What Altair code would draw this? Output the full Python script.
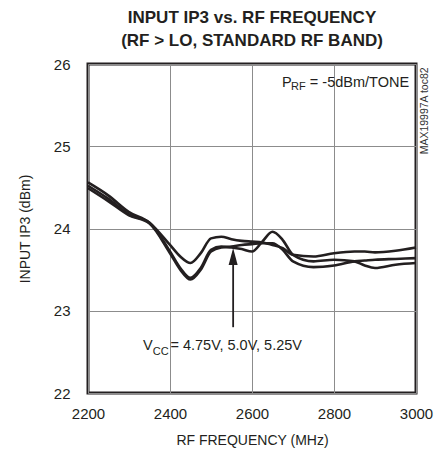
import altair as alt
import pandas as pd

# ---- data ----
freq = [2200, 2250, 2300, 2350, 2400, 2425, 2450, 2475, 2500, 2525, 2550, 2575,
        2600, 2625, 2650, 2675, 2700, 2750, 2800, 2850, 2875, 2900, 2950, 3000]
iip3_a = [24.56, 24.40, 24.20, 24.07, 23.80, 23.66, 23.58, 23.70, 23.88, 23.90, 23.87, 23.85,
          23.84, 23.83, 23.80, 23.76, 23.68, 23.66, 23.70, 23.72, 23.72, 23.71, 23.73, 23.77]
iip3_b = [24.52, 24.36, 24.17, 24.07, 23.72, 23.52, 23.40, 23.52, 23.74, 23.78, 23.77, 23.75,
          23.72, 23.84, 23.96, 23.86, 23.68, 23.60, 23.62, 23.60, 23.55, 23.52, 23.56, 23.58]
iip3_c = [24.49, 24.33, 24.16, 24.06, 23.70, 23.50, 23.38, 23.50, 23.72, 23.77, 23.78, 23.80,
          23.81, 23.82, 23.82, 23.74, 23.60, 23.53, 23.55, 23.60, 23.61, 23.62, 23.63, 23.64]
series_names = ["5.25V", "5.0V", "4.75V"]

x_ticks = [2200, 2400, 2600, 2800, 3000]
y_ticks = [22, 23, 24, 25, 26]

# annotations (data coordinates)
main_text_x = [2673, 2741, 2334, 2401]
main_text_y = [25.724, 25.724, 22.52, 22.52]
main_text = ["P", "= -5dBm/TONE", "V", "= 4.75V, 5.0V, 5.25V"]
sub_text_x = [2695, 2358]
sub_text_y = [25.684, 22.46]
sub_text = ["RF", "CC"]
arrow_x = [2554]
arrow_y0 = [22.80]
arrow_y1 = [23.58]
arrow_head_y = [23.66]
side_x = [3022]
side_y = [25.43]
side_text = ["MAX19997A toc82"]

INK = "#231f20"
FONT = "Liberation Sans, Arial, sans-serif"

rows = []
for name, vals in zip(series_names, [iip3_a, iip3_b, iip3_c]):
    for f, v in zip(freq, vals):
        rows.append({"f": f, "v": v, "vcc": name})
df = pd.DataFrame(rows)

xs = alt.Scale(domain=[2200, 3000], nice=False, zero=False)
ys = alt.Scale(domain=[22, 26], nice=False, zero=False)

lines = alt.Chart(df).mark_line(color=INK, strokeWidth=2.6, interpolate="monotone").encode(
    x=alt.X("f:Q", scale=xs, axis=alt.Axis(values=x_ticks, title="RF FREQUENCY (MHz)",
                                           labelPadding=13, titlePadding=12, format="d",
                                           labelFlush=False, labelOverlap=False)),
    y=alt.Y("v:Q", scale=ys, axis=alt.Axis(values=y_ticks, title="INPUT IP3 (dBm)",
                                           labelPadding=18, titlePadding=21, format="d",
                                           labelFlush=False, labelOverlap=False)),
    detail="vcc:N",
)

main_df = pd.DataFrame({"x": main_text_x, "y": main_text_y, "t": main_text})
sub_df = pd.DataFrame({"x": sub_text_x, "y": sub_text_y, "t": sub_text})
main_lbl = alt.Chart(main_df).mark_text(align="left", baseline="alphabetic", font=FONT,
                                         fontSize=14.5, color=INK).encode(
    x=alt.X("x:Q", scale=xs), y=alt.Y("y:Q", scale=ys), text="t:N")
sub_lbl = alt.Chart(sub_df).mark_text(align="left", baseline="alphabetic", font=FONT,
                                       fontSize=11, color=INK).encode(
    x=alt.X("x:Q", scale=xs), y=alt.Y("y:Q", scale=ys), text="t:N")

arrow_df = pd.DataFrame({"x": arrow_x, "y0": arrow_y0, "y1": arrow_y1, "yh": arrow_head_y})
arrow = alt.Chart(arrow_df).mark_rule(color=INK, strokeWidth=1.8).encode(
    x=alt.X("x:Q", scale=xs), y=alt.Y("y0:Q", scale=ys), y2="y1:Q")
head = alt.Chart(arrow_df).mark_point(shape="M-0.53,1L0.53,1L0,-1Z", size=289, filled=True,
                                      color=INK, opacity=1, strokeWidth=0).encode(
    x=alt.X("x:Q", scale=xs), y=alt.Y("yh:Q", scale=ys))

side_df = pd.DataFrame({"x": side_x, "y": side_y, "t": side_text})
side = alt.Chart(side_df).mark_text(angle=270, align="center", baseline="middle", font=FONT,
                                    fontSize=10.5, color="#333333").encode(
    x=alt.X("x:Q", scale=xs), y=alt.Y("y:Q", scale=ys), text="t:N")

chart = alt.layer(lines, arrow, head, main_lbl, sub_lbl, side).properties(
    width=328,
    height=329,
    autosize=alt.AutoSizeParams(type="none"),
    padding={"left": 80, "top": 56, "right": 22, "bottom": 57},
    title=alt.TitleParams(
        ["INPUT IP3 vs. RF FREQUENCY", "(RF > LO, STANDARD RF BAND)"],
        font=FONT, fontSize=17, fontWeight="bold", color=INK, lineHeight=23,
        anchor="middle", frame="group", offset=7,
    ),
).configure_view(
    stroke=INK, strokeWidth=3,
).configure_axis(
    domain=False, ticks=False, grid=True, gridColor="#8c8c8c", gridWidth=1,
    labelFont=FONT, labelFontSize=15, labelColor=INK,
    titleFont=FONT, titleFontSize=14, titleFontWeight="normal", titleColor=INK,
)

chart.save("out.html", embed_options={"renderer": "svg", "actions": False})
